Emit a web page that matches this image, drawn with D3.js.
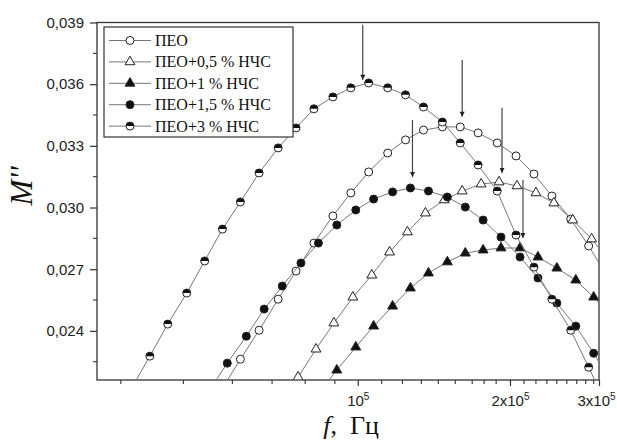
<!DOCTYPE html>
<html>
<head>
<meta charset="utf-8">
<script src="https://cdn.jsdelivr.net/npm/d3@7"></script>
<style>
  body { margin: 0; background: #fff; }
</style>
</head>
<body>
<script>
// Frequency (Hz) and M'' values (first / last point of each series lies just outside the frame)
const peoF = [54000, 58600, 63800, 69600, 75500, 81900, 89300, 96900, 105100, 114600, 124300, 134900, 147000, 159500, 173000, 188700, 205600, 223100, 242100, 263800, 286200, 310500];
const peoM = [0.02121, 0.02262, 0.02403, 0.02554, 0.02691, 0.02827, 0.02959, 0.03071, 0.03173, 0.03265, 0.03329, 0.03377, 0.03392, 0.03392, 0.03363, 0.03314, 0.03251, 0.03163, 0.03056, 0.02944, 0.02813, 0.02670];

const p05F = [70200, 76200, 82700, 89700, 97800, 106600, 115600, 125400, 136100, 148300, 160900, 175400, 190300, 206500, 225100, 244300, 266200, 290100, 314800];
const p05M = [0.02038, 0.02175, 0.02311, 0.02438, 0.02564, 0.02671, 0.02783, 0.02881, 0.02973, 0.03037, 0.03080, 0.03114, 0.03124, 0.03105, 0.03071, 0.03022, 0.02939, 0.02847, 0.02739];

const p1F = [83600, 90900, 99100, 107500, 117200, 127100, 138000, 150400, 163200, 177000, 192000, 209400, 227200, 247600, 269900, 292800, 317700];
const p1M = [0.02097, 0.02209, 0.02321, 0.02423, 0.02520, 0.02608, 0.02681, 0.02735, 0.02778, 0.02793, 0.02803, 0.02803, 0.02759, 0.02705, 0.02647, 0.02564, 0.02467];

const p15F = [50900, 55200, 60200, 65300, 70900, 77200, 83600, 90900, 99100, 107500, 117200, 127100, 138000, 150400, 163200, 177000, 192000, 209400, 227200, 247600, 269900, 292800, 317700];
const p15M = [0.02111, 0.02243, 0.02374, 0.02506, 0.02618, 0.02730, 0.02827, 0.02915, 0.02988, 0.03041, 0.03076, 0.03095, 0.03080, 0.03051, 0.03002, 0.02939, 0.02856, 0.02759, 0.02657, 0.02535, 0.02423, 0.02291, 0.02146];

const p3F = [35700, 38800, 42100, 45900, 49800, 54000, 58600, 63800, 69600, 75500, 81900, 89300, 96900, 105100, 114600, 124300, 134900, 147000, 159500, 173000, 188700, 205600, 223100, 242100, 263800, 286200, 310500];
const p3M = [0.02121, 0.02277, 0.02433, 0.02584, 0.02740, 0.02895, 0.03027, 0.03168, 0.03290, 0.03387, 0.03480, 0.03538, 0.03582, 0.03606, 0.03582, 0.03548, 0.03489, 0.03416, 0.03314, 0.03207, 0.03080, 0.02866, 0.02710, 0.02554, 0.02403, 0.02223, 0.02040];

const legendLabels = ["ПЕО", "ПЕО+0,5 % НЧС", "ПЕО+1 % НЧС", "ПЕО+1,5 % НЧС", "ПЕО+3 % НЧС"];
const markerKinds = ["circleOpen", "triOpen", "triFilled", "circleFilled", "circleHalf"];

// peak arrows: frequency, start and tip of each arrow
const arrowF = [102300, 160900, 128300, 192900, 212200];
const arrowTop = [0.03889, 0.03718, 0.03426, 0.03485, 0.03134];
const arrowTip = [0.03621, 0.03441, 0.03149, 0.03168, 0.02852];

// ticks
const xMajorTicks = [1e5, 2e5, 3e5];
const xMajorLabels = [["10", "5"], ["2x10", "5"], ["3x10", "5"]];
const xMinorTicks = [34000, 45200, 56500, 67700, 78700, 90100, 111500, 122600, 133600, 144300, 155900, 168400, 177800, 187800, 213200, 225100, 236600, 247600, 259100, 271100, 282400, 292800];
const yMajorTicks = [0.024, 0.027, 0.030, 0.033, 0.036, 0.039];
const yMinorTicks = [0.0225, 0.0255, 0.0285, 0.0315, 0.0345, 0.0375];

const W = 617, H = 441;
const plotLeft = 97, plotRight = 599, plotTop = 22.5, plotBottom = 380;

const svg = d3.select("body").append("svg")
    .attr("width", W)
    .attr("height", H);

const x = d3.scaleLog()
    .domain([30500, 300000])
    .range([plotLeft, plotRight]);

const y = d3.scaleLinear()
    .domain([0.02161, 0.039])
    .range([plotBottom, plotTop]);

const axisColor = "#333";
const lineColor = "#777";

const defs = svg.append("defs");
defs.append("clipPath")
    .attr("id", "plotClip")
  .append("rect")
    .attr("x", plotLeft).attr("y", plotTop)
    .attr("width", plotRight - plotLeft).attr("height", plotBottom - plotTop);

defs.append("marker")
    .attr("id", "arrowHead")
    .attr("viewBox", "0 0 10 10")
    .attr("refX", 10).attr("refY", 5)
    .attr("markerUnits", "userSpaceOnUse")
    .attr("markerWidth", 10).attr("markerHeight", 5)
    .attr("orient", "auto")
  .append("path")
    .attr("d", "M0,0 L10,5 L0,10 Z")
    .attr("fill", "#222");

// x axis
const xAxis = svg.append("g")
    .attr("transform", `translate(0,${plotBottom})`)
    .call(d3.axisBottom(x).tickValues(xMajorTicks).tickSize(6).tickPadding(5).tickSizeOuter(0).tickFormat(() => ""));
xAxis.select(".domain").remove();
xAxis.selectAll(".tick line").attr("stroke", axisColor).attr("stroke-width", 1.2);
xAxis.selectAll(".tick text")
    .attr("font-family", "Liberation Sans, Arial, sans-serif")
    .attr("font-size", 15)
    .attr("fill", "#222")
    .attr("dy", "1.0em")
    .attr("dx", (d, i) => i === xMajorTicks.length - 1 ? -3 : 0)
    .each(function(d, i) {
        const t = d3.select(this);
        t.append("tspan").text(xMajorLabels[i][0]);
        t.append("tspan").attr("font-size", 10).attr("dy", "-0.6em").text(xMajorLabels[i][1]);
    });

svg.append("g").selectAll("line")
    .data(xMinorTicks)
    .join("line")
    .attr("x1", d => x(d)).attr("x2", d => x(d))
    .attr("y1", plotBottom).attr("y2", plotBottom + 4)
    .attr("stroke", axisColor).attr("stroke-width", 1.1);

// y axis
const yAxis = svg.append("g")
    .attr("transform", `translate(${plotLeft},0)`)
    .call(d3.axisLeft(y).tickValues(yMajorTicks).tickSize(7).tickPadding(6).tickSizeOuter(0)
        .tickFormat(d => d3.format(".3f")(d).replace(".", ",")));
yAxis.select(".domain").remove();
yAxis.selectAll(".tick line").attr("stroke", axisColor).attr("stroke-width", 1.2);
yAxis.selectAll(".tick text")
    .attr("font-family", "Liberation Sans, Arial, sans-serif")
    .attr("font-size", 15)
    .attr("fill", "#222");

svg.append("g").selectAll("line")
    .data(yMinorTicks)
    .join("line")
    .attr("x1", plotLeft - 4).attr("x2", plotLeft)
    .attr("y1", d => y(d)).attr("y2", d => y(d))
    .attr("stroke", axisColor).attr("stroke-width", 1.1);

// frame
svg.append("rect")
    .attr("x", plotLeft).attr("y", plotTop)
    .attr("width", plotRight - plotLeft).attr("height", plotBottom - plotTop)
    .attr("fill", "none")
    .attr("stroke", axisColor)
    .attr("stroke-width", 1.3);

// series
const series = [
    { f: peoF, m: peoM, kind: markerKinds[0] },
    { f: p05F, m: p05M, kind: markerKinds[1] },
    { f: p1F, m: p1M, kind: markerKinds[2] },
    { f: p15F, m: p15M, kind: markerKinds[3] },
    { f: p3F, m: p3M, kind: markerKinds[4] }
];

const line = d3.line()
    .x(d => x(d[0]))
    .y(d => y(d[1]));

const plot = svg.append("g").attr("clip-path", "url(#plotClip)");

const triPath = d3.symbol().type(d3.symbolTriangle).size(42)();

function drawMarker(g, kind) {
    if (kind === "circleOpen" || kind === "circleFilled") {
        g.append("circle").attr("r", 4)
            .attr("fill", kind === "circleOpen" ? "#fff" : "#111")
            .attr("stroke", "#222").attr("stroke-width", 1);
    } else if (kind === "triOpen" || kind === "triFilled") {
        g.append("path").attr("d", triPath)
            .attr("fill", kind === "triOpen" ? "#fff" : "#111")
            .attr("stroke", "#222").attr("stroke-width", 1);
    } else {
        g.append("circle").attr("r", 4).attr("fill", "#fff");
        g.append("path").attr("d", "M-4,0 A4,4 0 0 1 4,0 Z").attr("fill", "#111");
        g.append("circle").attr("r", 4).attr("fill", "none")
            .attr("stroke", "#222").attr("stroke-width", 1);
    }
}

series.forEach(s => {
    const pts = s.f.map((f, i) => [f, s.m[i]]);
    plot.append("path")
        .datum(pts)
        .attr("fill", "none")
        .attr("stroke", lineColor)
        .attr("stroke-width", 1)
        .attr("d", line);
    plot.append("g").selectAll("g")
        .data(pts)
        .join("g")
        .attr("transform", d => `translate(${x(d[0])},${y(d[1])})`)
        .each(function() { drawMarker(d3.select(this), s.kind); });
});

// arrows
svg.append("g").selectAll("line")
    .data(arrowF)
    .join("line")
    .attr("x1", d => x(d)).attr("x2", d => x(d))
    .attr("y1", (d, i) => y(arrowTop[i]))
    .attr("y2", (d, i) => y(arrowTip[i]))
    .attr("stroke", "#444")
    .attr("stroke-width", 1.2)
    .attr("marker-end", "url(#arrowHead)");

// legend
const legend = svg.append("g");
legend.append("rect")
    .attr("x", 104).attr("y", 27)
    .attr("width", 189).attr("height", 110)
    .attr("fill", "#fff")
    .attr("stroke", axisColor)
    .attr("stroke-width", 1.2);

legendLabels.forEach((label, i) => {
    const ly = 40.5 + i * 21.4;
    legend.append("line")
        .attr("x1", 109).attr("x2", 151)
        .attr("y1", ly).attr("y2", ly)
        .attr("stroke", lineColor).attr("stroke-width", 1);
    drawMarker(legend.append("g").attr("transform", `translate(130,${ly})`), markerKinds[i]);
    legend.append("text")
        .attr("x", 155).attr("y", ly + 5.5)
        .attr("font-family", "Liberation Serif, Times New Roman, serif")
        .attr("font-size", 16)
        .attr("fill", "#111")
        .text(label);
});

// axis titles
const xTitle = svg.append("text")
    .attr("x", 351).attr("y", 434)
    .attr("text-anchor", "middle")
    .attr("font-family", "Liberation Serif, Times New Roman, serif")
    .attr("font-size", 26)
    .attr("fill", "#111")
    .style("white-space", "pre");
xTitle.append("tspan").attr("font-style", "italic").text("f");
xTitle.append("tspan").text(",  Гц");

svg.append("text")
    .attr("transform", "translate(32,186) rotate(-90)")
    .attr("text-anchor", "middle")
    .attr("font-family", "Liberation Serif, Times New Roman, serif")
    .attr("font-style", "italic")
    .attr("font-size", 31)
    .attr("fill", "#111")
    .text("M''");
</script>
</body>
</html>
